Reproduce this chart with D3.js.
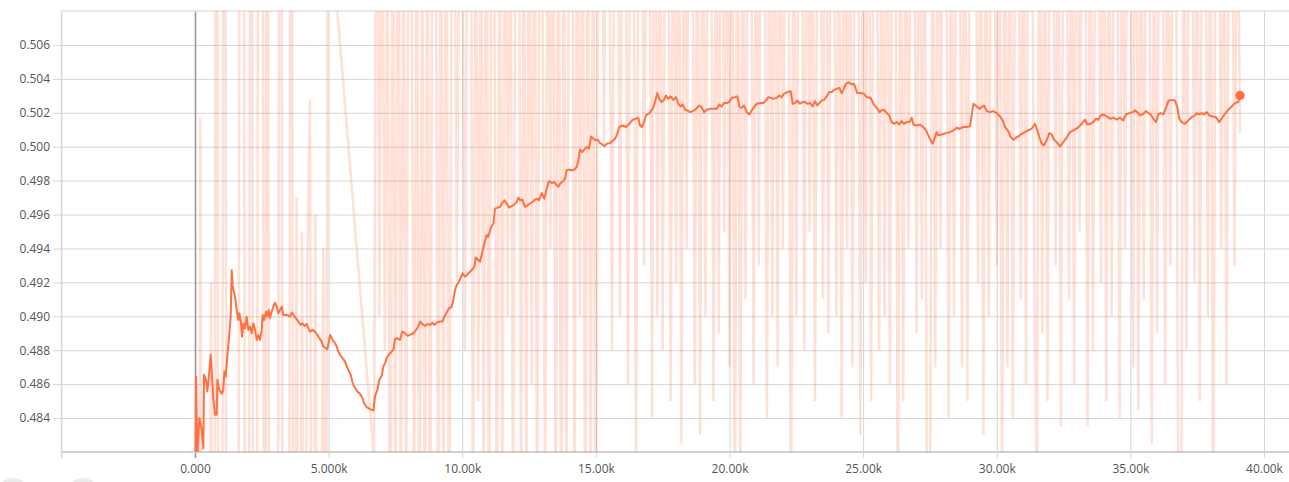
<!DOCTYPE html>
<html><head><meta charset="utf-8">
<script src="https://cdn.jsdelivr.net/npm/d3@7"></script>
<style>html,body{margin:0;padding:0;background:#fff;overflow:hidden}svg{display:block}</style>
</head><body>
<svg id="chart" width="1289" height="482"></svg>
<script>
const xTickValues = [-5000,0,5000,10000,15000,20000,25000,30000,35000,40000];
const xTickLabels = ["","0.000","5.000k","10.00k","15.00k","20.00k","25.00k","30.00k","35.00k","40.00k"];
const yTickValues = [0.484,0.486,0.488,0.490,0.492,0.494,0.496,0.498,0.500,0.502,0.504,0.506];
const yTickLabels = ["0.484","0.486","0.488","0.490","0.492","0.494","0.496","0.498","0.500","0.502","0.504","0.506"];

// smoothed series: [step, value]
const smoothed = [[0,0.478],[38,0.48645],[87,0.4818],[162,0.4840],[250,0.48332],[312,0.4822],[337,0.48655],[412,0.48626],[462,0.48557],[524,0.48655],[586,0.48773],[636,0.48645],[686,0.48508],[748,0.4842],[811,0.4842],[836,0.48626],[911,0.48567],[998,0.48543],[1060,0.48567],[1098,0.48675],[1148,0.48645],[1210,0.48763],[1285,0.4890],[1335,0.48998],[1372,0.49272],[1410,0.49174],[1497,0.49116],[1559,0.49037],[1622,0.48978],[1659,0.49018],[1709,0.48978],[1759,0.4888],[1809,0.48959],[1871,0.48929],[1933,0.48998],[1996,0.4892],[2058,0.48939],[2121,0.4890],[2183,0.48959],[2245,0.4892],[2308,0.48861],[2370,0.4889],[2432,0.48861],[2495,0.4892],[2532,0.49008],[2582,0.48978],[2657,0.49027],[2707,0.48998],[2757,0.49037],[2807,0.48988],[2869,0.49027],[2931,0.49057],[2994,0.4908],[3056,0.49057],[3118,0.49018],[3181,0.49037],[3243,0.49057],[3305,0.49008],[3430,0.49008],[3555,0.48998],[3617,0.49022],[3680,0.49008],[3779,0.48988],[3867,0.48969],[3954,0.48949],[4016,0.48959],[4091,0.48943],[4179,0.48955],[4241,0.48929],[4303,0.4891],[4403,0.4892],[4490,0.4891],[4578,0.4889],[4653,0.48871],[4740,0.48851],[4802,0.48822],[4902,0.48812],[4952,0.48806],[5052,0.4889],[5151,0.48861],[5239,0.48841],[5301,0.48822],[5363,0.48792],[5426,0.48773],[5526,0.48753],[5613,0.48733],[5675,0.48704],[5738,0.48684],[5825,0.48655],[5900,0.48606],[5987,0.48577],[6074,0.48557],[6174,0.48543],[6262,0.48518],[6324,0.48488],[6424,0.48465],[6548,0.48453],[6673,0.48445],[6736,0.48528],[6823,0.48567],[6898,0.48626],[6985,0.48649],[7047,0.48704],[7110,0.48724],[7197,0.48763],[7272,0.48778],[7359,0.48792],[7422,0.48802],[7484,0.48865],
[7546,0.48871],[7671,0.48861],[7758,0.4891],[7858,0.489],[7958,0.48885],[8045,0.48891],[8170,0.489],[8257,0.48916],[8357,0.4894],[8419,0.48969],[8507,0.48955],[8607,0.48943],[8706,0.48955],[8794,0.48949],[8881,0.48963],[8956,0.48949],[9043,0.48963],[9168,0.48969],[9255,0.48969],[9330,0.48998],[9417,0.49022],[9505,0.49047],[9604,0.49057],[9667,0.49096],[9729,0.49155],[9792,0.49184],[9879,0.49204],[9954,0.49233],[10016,0.49253],[10103,0.49233],[10203,0.49249],[10290,0.49263],[10378,0.49277],[10453,0.49292],[10503,0.49347],[10577,0.49335],[10665,0.49322],[10752,0.4938],[10827,0.49429],[10914,0.49479],[10976,0.49469],[11039,0.49508],[11101,0.49531],[11164,0.49547],[11226,0.49635],[11326,0.49641],[11413,0.49645],[11500,0.49669],[11575,0.49684],[11662,0.49665],[11750,0.49641],[11850,0.49649],[11949,0.4966],[12037,0.49674],[12099,0.497],[12161,0.49684],[12248,0.49688],[12348,0.49645],[12448,0.49655],[12536,0.49665],[12623,0.49674],[12723,0.49688],[12823,0.49694],[12872,0.49684],[12972,0.49727],[13072,0.49694],[13159,0.49753],[13247,0.49798],[13346,0.49786],[13446,0.49792],[13533,0.49773],[13596,0.49763],[13658,0.49782],[13745,0.49792],[13845,0.49812],[13908,0.49861],[13995,0.49865],[14095,0.49861],[14195,0.49865],[14282,0.4988],[14344,0.49919],[14407,0.49982],[14494,0.49968],[14594,0.49988],[14656,0.49998],[14744,0.49988],[14818,0.5006],[14905,0.50047],[14993,0.50037],[15068,0.50041],[15155,0.50021],[15242,0.50014],[15317,0.50002],[15405,0.50017],[15529,0.50021],[15617,0.50033],[15716,0.50047],
[15778,0.50067],[15877,0.50116],[16002,0.50125],[16127,0.50116],[16252,0.50135],[16376,0.50159],[16501,0.50165],[16588,0.50171],[16651,0.50125],[16713,0.50116],[16800,0.50145],[16875,0.50184],[17000,0.50198],[17125,0.50223],[17212,0.50263],[17299,0.50316],[17374,0.50282],[17461,0.50263],[17549,0.50276],[17624,0.50302],[17711,0.50282],[17798,0.50296],[17898,0.50276],[17998,0.50292],[18085,0.50253],[18173,0.50237],[18247,0.50249],[18335,0.50218],[18422,0.50214],[18522,0.50204],[18646,0.5021],[18746,0.50223],[18871,0.50243],[18958,0.50233],[19046,0.50204],[19145,0.50218],[19270,0.50223],[19395,0.50223],[19520,0.50223],[19619,0.50249],[19707,0.50237],[19794,0.50257],[19894,0.50257],[19994,0.50263],[20081,0.50288],[20206,0.50292],[20293,0.50296],[20368,0.50237],[20455,0.50229],[20542,0.50243],[20642,0.50204],[20742,0.5019],[20829,0.50214],[20917,0.50233],[21016,0.50253],[21141,0.50257],[21266,0.50257],[21366,0.50272],[21453,0.50292],[21540,0.50288],[21640,0.50282],[21765,0.50288],[21865,0.50302],[21952,0.50292],[22039,0.50312],[22164,0.50322],[22289,0.50327],[22364,0.50253],[22451,0.50257],[22538,0.50272],[22638,0.50253],[22738,0.50263],[22825,0.50263],[22912,0.50253],[23012,0.50257],[23112,0.50237],[23199,0.50269],[23286,0.50243],[23361,0.50257],[23449,0.50272],[23536,0.50276],[23636,0.50296],[23736,0.50322],[23823,0.50322],[23910,0.50335],[24010,0.50341],[24110,0.50347],[24197,0.50316],[24259,0.50335],[24359,0.50371],[24446,0.5038],
[24572,0.50367],[24659,0.50371],[24784,0.50316],[24908,0.50316],[25033,0.50312],[25133,0.50292],[25283,0.50288],[25382,0.50253],[25507,0.50229],[25607,0.50204],[25694,0.50214],[25781,0.50218],[25881,0.50198],[25981,0.50184],[26068,0.50145],[26156,0.50135],[26255,0.50145],[26355,0.50131],[26443,0.50151],[26530,0.50135],[26630,0.50145],[26729,0.50145],[26817,0.50171],[26879,0.50131],[27004,0.50125],[27129,0.50131],[27253,0.50116],[27353,0.50096],[27440,0.50067],[27528,0.50037],[27603,0.50018],[27690,0.50057],[27752,0.50086],[27815,0.50067],[27939,0.50072],[28101,0.5008],[28251,0.50086],[28376,0.50096],[28501,0.50112],[28600,0.50106],[28750,0.50116],[28875,0.50116],[29000,0.5012],[29124,0.50253],[29249,0.50237],[29349,0.50223],[29436,0.50233],[29524,0.50243],[29623,0.5021],[29748,0.50204],[29873,0.5021],[29998,0.50198],[30122,0.50178],[30222,0.50155],[30309,0.50116],[30434,0.50092],[30521,0.50057],[30621,0.50041],[30721,0.50053],[30808,0.50061],[30933,0.50076],[31058,0.50086],[31182,0.50096],[31307,0.50106],[31432,0.50135],[31519,0.50096],[31594,0.50057],[31681,0.50018],[31768,0.50008],[31868,0.50037],[31968,0.5008],[32055,0.50072],[32143,0.50041],[32242,0.50027],[32367,0.50002],
[32491,0.50027],[32616,0.50053],[32741,0.50086],[32865,0.50096],[32990,0.50106],[33090,0.5012],[33177,0.50135],[33302,0.50159],[33390,0.50131],[33514,0.50135],[33614,0.50145],[33713,0.50165],[33801,0.50159],[33888,0.50184],[33988,0.5019],[34113,0.50178],[34237,0.50165],[34362,0.50171],[34487,0.50159],[34612,0.50171],[34736,0.50155],[34836,0.5019],[34961,0.50198],[35085,0.50204],[35173,0.50214],[35297,0.50198],[35360,0.50184],[35485,0.50194],[35584,0.5021],[35672,0.50198],[35759,0.5019],[35859,0.50165],[35959,0.50145],[36046,0.5019],[36133,0.50198],[36233,0.5019],[36333,0.50229],[36420,0.50269],[36545,0.50276],[36670,0.50272],[36757,0.50233],[36832,0.50165],[36919,0.50145],[37044,0.50135],[37169,0.50155],[37293,0.50174],[37418,0.50184],[37480,0.50198],[37580,0.5019],[37667,0.50198],[37755,0.5019],[37855,0.50204],[37954,0.50184],[38079,0.50178],[38204,0.50174],[38329,0.50145],[38416,0.50165],[38541,0.50194],[38665,0.50218],[38790,0.50237],[38915,0.50257],[39040,0.50263],[39102,0.50302]];

// raw series, first block: steps 0..5300 every 100
const rawEarlyStart = 0;
const rawEarly = [0.478,0.43,0.5017,0.44,0.46,0.45,0.492,0.44,0.55,0.43,
0.45,0.56,0.44,0.46,0.47,0.45,0.44,0.56,0.55,0.43,
0.45,0.56,0.44,0.46,0.55,0.56,0.44,0.54,0.45,0.46,
0.45,0.47,0.56,0.44,0.46,0.45,0.55,0.44,0.497,0.45,
0.495,0.46,0.493,0.5028,0.45,0.496,0.46,0.47,0.494,0.46,
0.55,0.55,0.53,0.5085];
// raw series, second block: steps 6700..39100 every 100
const rawLateStart = 6700;
const rawLate = [0.4815,
0.53,0.49,0.52,0.488,0.515,0.47,0.52,0.475,0.53,0.472,
0.52,0.476,0.525,0.51,0.478,0.52,0.47,0.515,0.474,0.52,
0.468,0.53,0.52,0.475,0.52,0.477,0.525,0.47,0.51,0.52,
0.492,0.52,0.515,0.488,0.52,0.53,0.476,0.52,0.485,0.52,
0.478,0.525,0.472,0.52,0.51,0.475,0.52,0.478,0.525,0.49,
0.52,0.474,0.52,0.53,0.477,0.52,0.479,0.52,0.486,0.525,
0.475,0.52,0.51,0.478,0.52,0.494,0.52,0.476,0.525,0.472,
0.52,0.478,0.52,0.53,0.477,0.52,0.49,0.52,0.475,0.525,
0.476,0.52,0.47,0.52,0.53,0.5,0.52,0.515,0.488,0.52,
0.53,0.49,0.52,0.52,0.486,0.525,0.52,0.48,0.52,0.53,
0.493,0.52,0.52,0.484,0.53,0.49,0.52,0.488,0.52,0.52,
0.485,0.525,0.492,0.52,0.4825,0.52,0.494,0.53,0.52,0.486,
0.52,0.483,0.525,0.49,0.52,0.52,0.485,0.52,0.489,0.53,
0.495,0.52,0.487,0.52,0.475,0.525,0.479,0.52,0.491,0.52,
0.52,0.486,0.52,0.493,0.53,0.52,0.484,0.52,0.49,0.525,
0.487,0.52,0.494,0.52,0.52,0.474,0.52,0.49,0.52,0.52,
0.488,0.525,0.495,0.52,0.485,0.52,0.52,0.491,0.53,0.489,
0.52,0.52,0.49,0.52,0.484,0.525,0.494,0.52,0.487,0.52,
0.52,0.483,0.52,0.492,0.53,0.485,0.52,0.52,0.488,0.52,
0.49,0.525,0.486,0.52,0.52,0.476,0.52,0.485,0.52,0.494,
0.52,0.52,0.489,0.525,0.491,0.52,0.473,0.478,0.52,0.487,
0.52,0.494,0.53,0.52,0.484,0.52,0.49,0.52,0.52,0.487,
0.525,0.485,0.52,0.53,0.52,0.492,0.52,0.483,0.52,0.49,
0.52,0.52,0.493,0.52,0.479,0.52,0.487,0.525,0.484,0.52,
0.52,0.491,0.52,0.486,0.53,0.52,0.494,0.478,0.52,0.489,
0.52,0.485,0.525,0.52,0.493,0.52,0.4835,0.52,0.52,0.491,
0.52,0.486,0.53,0.495,0.52,0.52,0.4835,0.52,0.488,0.52,
0.52,0.492,0.525,0.485,0.52,0.49,0.52,0.52,0.484,0.52,
0.494,0.52,0.52,0.487,0.53,0.4845,0.52,0.491,0.52,0.52,
0.4825,0.52,0.489,0.525,0.52,0.486,0.52,0.493,0.52,0.52,
0.474,0.478,0.52,0.488,0.52,0.52,0.492,0.52,0.485,0.525,
0.52,0.49,0.52,0.476,0.52,0.52,0.494,0.52,0.486,0.52,
0.52,0.493,0.52,0.5008];
const rawStepSize = 100;

const svg = d3.select("#chart");
const pL = 61.4, pR = 1290.7, pT = 11, pB = 452;
const x = d3.scaleLinear().domain([-5000, 41000]).range([pL, pR]);
const y = d3.scaleLinear().domain([0.482, 0.508]).range([pB, pT]);

const raw = rawEarly.map((v,i)=>[rawEarlyStart + i*rawStepSize, v])
  .concat(rawLate.map((v,i)=>[rawLateStart + i*rawStepSize, v]));

svg.append("defs").append("clipPath").attr("id","clip")
  .append("rect").attr("x",pL).attr("y",pT).attr("width",1289-pL).attr("height",pB-pT);

// horizontal gridlines (y axis)
const yAxis = d3.axisLeft(y).tickValues(yTickValues).tickFormat((d,i)=>yTickLabels[i])
  .tickSize(-(1289-53)).tickPadding(3);
const gy = svg.append("g").attr("transform",`translate(53,0)`).call(yAxis);
gy.select(".domain").remove();
gy.selectAll(".tick line").attr("stroke","#d6d6d6").attr("stroke-width",1);
gy.selectAll(".tick text").attr("fill","#555").attr("font-size","12px")
  .attr("font-family","'Open Sans', sans-serif").attr("x",-3);

// vertical gridlines (x axis)
const xAxis = d3.axisBottom(x).tickValues(xTickValues).tickFormat((d,i)=>xTickLabels[i])
  .tickSizeInner(-(pB-pT)).tickSizeOuter(0).tickPadding(12);
const gx = svg.append("g").attr("transform",`translate(0,${pB})`).call(xAxis);
gx.select(".domain").remove();
gx.selectAll(".tick line").attr("stroke","#d6d6d6").attr("stroke-width",1).attr("y2",-(pB-pT)).attr("y1",6);
gx.selectAll(".tick text").attr("fill","#555").attr("font-size","12px")
  .attr("font-family","'Open Sans', sans-serif");
gx.selectAll(".tick").filter(d=>d===0).select("line").attr("stroke","#999").attr("stroke-width",1.6);

// frame
svg.append("line").attr("x1",pL).attr("x2",1289).attr("y1",pT).attr("y2",pT).attr("stroke","#e2e2e2").attr("stroke-width",1.5);
svg.append("line").attr("x1",pL).attr("x2",pL).attr("y1",pT).attr("y2",pB+6).attr("stroke","#d6d6d6").attr("stroke-width",1);
svg.append("line").attr("x1",pL).attr("x2",1289).attr("y1",pB).attr("y2",pB).attr("stroke","#d0d0d0").attr("stroke-width",2);

const line = d3.line().x(d=>x(d[0])).y(d=>y(d[1]));
const plot = svg.append("g").attr("clip-path","url(#clip)");
plot.append("path").datum(raw).attr("d",line).attr("fill","none")
  .attr("stroke","#ff7043").attr("stroke-opacity",0.22).attr("stroke-width",2.5);
plot.append("path").datum(smoothed).attr("d",line).attr("fill","none")
  .attr("stroke","#ff7043").attr("stroke-width",2).attr("stroke-linejoin","round");

const last = smoothed[smoothed.length-1];
svg.append("circle").attr("cx",x(last[0])).attr("cy",y(last[1])).attr("r",4.7).attr("fill","#ff7043");

// partially visible buttons at the bottom-left
svg.append("circle").attr("cx",13).attr("cy",494).attr("r",16).attr("fill","#ebebeb");
svg.append("circle").attr("cx",83).attr("cy",494).attr("r",16).attr("fill","#ebebeb");
</script>
</body></html>
